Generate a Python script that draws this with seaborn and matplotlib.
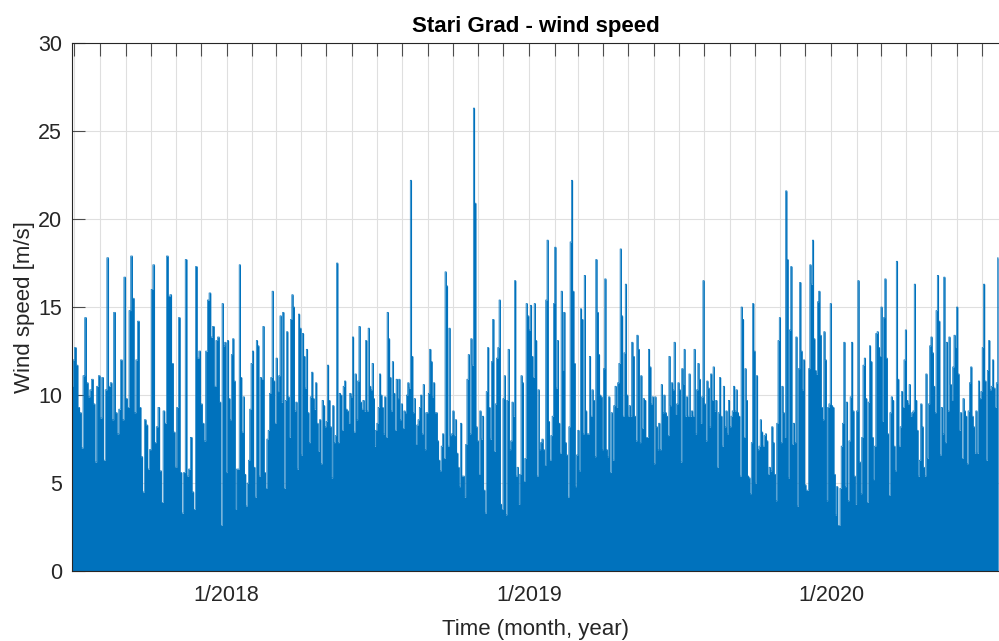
import numpy as np
import pandas as pd
import seaborn as sns
import matplotlib.pyplot as plt
import matplotlib.dates as mdates

seg_start = ["2017-06-28", "2017-12-24", "2018-06-29", "2019-01-02", "2019-07-08", "2020-01-11"]
seg_end = ["2017-12-22", "2018-06-28", "2018-12-31", "2019-07-07", "2020-01-10", "2020-07-21"]

speed_h2_2017 = [10.5, 12.0, 12.7, 11.7, 9.3, 9.0, 7.0, 11.1, 14.4, 10.7, 9.9, 10.3, 10.9, 9.5, 6.2,
                 10.5, 11.1, 8.7, 11.0, 6.3, 10.3, 17.8, 10.5, 10.7, 8.6, 14.7, 9.0, 7.8, 9.2, 12.0,
                 8.6, 16.7, 9.8, 9.3, 14.8, 17.9, 15.5, 9.0, 12.0, 14.2, 9.3, 6.5, 4.5, 8.6, 8.3,
                 5.8, 6.9, 16.0, 17.4, 7.3, 8.2, 9.3, 5.7, 3.9, 9.1, 8.4, 17.9, 15.6, 15.7, 11.8,
                 7.9, 5.9, 9.3, 14.4, 5.6, 3.3, 5.6, 17.7, 5.4, 5.8, 7.6, 4.5, 3.5, 17.3, 12.1,
                 12.5, 9.5, 8.4, 7.4, 12.5, 15.4, 15.8, 13.3, 13.9, 10.5, 13.1, 13.3]
speed_h1_2018 = [9.6, 2.6, 15.2, 12.8, 13.0, 5.6, 13.1, 9.8, 8.6, 12.3, 13.2, 10.8, 3.5, 5.8, 5.8,
                 17.4, 11.0, 7.9, 9.9, 5.5, 3.7, 5.0, 6.3, 9.2, 11.8, 12.5, 5.9, 4.2, 13.1, 12.8,
                 5.4, 11.0, 10.9, 13.9, 5.6, 4.7, 7.5, 8.0, 10.1, 11.0, 15.9, 10.8, 8.4, 12.1, 10.2,
                 11.1, 14.5, 9.6, 14.7, 4.7, 9.7, 13.6, 9.9, 7.6, 14.3, 15.7, 15.0, 9.1, 9.6, 5.8,
                 14.6, 13.8, 6.6, 13.5, 12.2, 10.4, 12.6, 9.0, 7.3, 9.9, 11.3, 9.8, 9.2, 10.7, 8.4,
                 6.8, 8.6, 6.1, 9.7, 9.4, 8.2, 8.5, 11.7, 9.7, 8.2, 5.3, 9.4, 7.3, 7.7, 17.5,
                 7.3, 10.1, 10.0, 8.0, 10.5, 10.8, 9.2, 9.1, 8.4, 10.1, 9.9, 13.3, 7.9, 11.2, 8.6,
                 10.8, 13.9, 9.6, 9.2, 9.7, 9.1, 13.1, 9.1, 13.8, 10.5, 10.3, 11.8, 9.8]
speed_h2_2018 = [7.1, 8.0, 8.4, 9.3, 11.2, 10.0, 9.3, 7.8, 9.9, 7.6, 14.7, 13.2, 11.0, 9.1, 11.9,
                 10.1, 8.0, 10.9, 9.8, 10.9, 8.6, 9.5, 8.1, 9.1, 9.0, 10.0, 10.7, 10.4, 22.2, 12.2,
                 9.0, 9.8, 7.2, 8.3, 8.6, 9.3, 10.0, 7.8, 10.6, 6.9, 9.0, 9.0, 10.1, 12.6, 11.9,
                 9.9, 10.7, 9.0, 9.0, 7.4, 6.3, 5.7, 7.1, 7.8, 6.4, 17.0, 16.2, 7.1, 13.8, 7.7,
                 7.8, 9.1, 7.7, 8.6, 6.7, 5.9, 4.8, 8.4, 5.4, 5.4, 4.2, 7.2, 10.9, 12.3, 7.8,
                 13.2, 11.7, 26.3, 20.9, 8.2, 7.4, 5.5, 9.1, 7.5, 8.8, 4.6, 3.3, 10.2, 12.7, 9.3,
                 7.5, 11.9, 14.3, 6.8, 9.5, 12.1, 12.7, 15.4, 3.8, 3.5, 9.8, 11.1, 3.2, 9.7, 12.6,
                 6.9, 7.4, 9.6, 8.8, 16.5, 5.4, 5.9, 3.8, 5.5, 11.1, 10.7, 5.1, 6.4, 15.2, 14.5]
speed_h1_2019 = [13.7, 15.1, 12.2, 11.0, 15.2, 13.1, 5.4, 10.3, 6.9, 7.3, 7.5, 6.9, 6.0, 15.4, 18.8,
                 8.5, 6.3, 7.7, 8.8, 15.2, 18.4, 10.4, 13.1, 8.4, 6.7, 15.9, 11.4, 14.7, 7.3, 6.6,
                 4.2, 8.2, 18.7, 22.2, 15.9, 11.8, 4.8, 6.6, 8.0, 5.7, 14.9, 14.3, 7.8, 16.8, 9.1,
                 7.8, 7.8, 12.2, 8.8, 10.3, 9.7, 6.5, 17.7, 14.7, 12.3, 10.0, 9.9, 6.9, 11.5, 16.6,
                 6.9, 6.5, 9.9, 5.6, 9.0, 6.3, 9.4, 10.5, 9.3, 10.7, 11.8, 18.3, 14.5, 8.8, 12.4,
                 16.3, 10.0, 8.8, 9.4, 8.8, 13.0, 12.2, 8.8, 7.4, 13.4, 12.6, 7.3, 11.1, 8.1, 9.8,
                 9.7, 7.6, 7.6, 12.6, 11.6, 9.5, 9.9, 6.1, 9.9, 8.2, 6.9, 8.4, 6.9, 10.6, 9.0,
                 10.0, 9.0, 8.8, 7.7, 12.2, 9.4, 10.7, 10.3, 13.0, 8.9, 9.5, 10.7, 10.3, 6.2, 11.5, 10.6]
speed_h2_2019 = [12.6, 8.8, 9.9, 8.8, 11.2, 8.8, 9.1, 8.8, 12.6, 7.8, 10.3, 11.8, 10.9, 8.4, 9.9,
                 16.5, 9.5, 7.4, 10.8, 10.4, 8.2, 11.2, 9.7, 11.6, 9.1, 9.7, 5.9, 9.0, 11.0, 8.8,
                 7.1, 10.5, 8.2, 9.1, 7.8, 9.7, 8.2, 8.8, 9.1, 10.5, 9.1, 10.3, 9.0, 8.8, 5.4,
                 15.0, 14.3, 7.6, 11.5, 9.7, 5.4, 5.3, 4.4, 7.3, 15.2, 12.5, 5.0, 11.1, 6.9, 7.1,
                 8.6, 7.9, 7.1, 7.7, 7.8, 7.4, 5.5, 5.9, 5.7, 8.2, 7.3, 5.5, 4.0, 8.4, 13.1,
                 14.4, 7.3, 10.5, 9.0, 7.6, 21.6, 17.7, 5.3, 13.7, 17.3, 7.2, 8.4, 7.3, 13.3, 3.7,
                 11.5, 16.4, 12.5, 10.3, 12.0, 4.9, 4.6, 4.6, 11.5, 17.4, 16.3, 18.8, 13.2, 11.4, 11.2,
                 15.3, 15.9, 13.4, 9.3, 8.6, 13.6, 12.0, 4.0, 9.3, 9.5, 15.2, 9.4, 9.3, 5.5, 3.2, 4.8, 2.6]
speed_h1_2020 = [2.6, 4.7, 7.1, 8.4, 13.0, 4.8, 9.6, 4.0, 7.4, 9.9, 13.0, 9.1, 5.4, 3.8, 9.1,
                 16.5, 6.2, 4.4, 7.6, 11.7, 12.1, 9.8, 3.9, 9.6, 12.8, 11.9, 7.6, 5.2, 7.1, 13.5,
                 13.6, 12.7, 12.2, 15.0, 8.5, 14.4, 16.6, 12.1, 7.8, 4.3, 9.0, 9.9, 9.7, 7.1, 5.7,
                 17.6, 10.9, 7.1, 8.2, 10.2, 9.3, 12.0, 13.7, 9.7, 9.5, 10.6, 8.8, 9.0, 9.1, 16.3,
                 9.7, 8.0, 5.4, 6.3, 9.5, 8.2, 5.9, 5.4, 11.2, 6.4, 9.5, 12.8, 13.3, 12.4, 10.5,
                 9.0, 14.8, 16.8, 14.2, 6.6, 9.3, 7.8, 16.7, 7.3, 13.0, 9.1, 13.3, 10.6, 9.7, 11.6,
                 13.4, 12.7, 15.0, 11.2, 8.0, 9.0, 6.4, 9.8, 9.1, 8.8, 6.1, 9.1, 10.7, 11.6, 8.8,
                 8.2, 6.7, 9.1, 6.7, 10.8, 9.8, 10.2, 12.7, 16.3, 10.8, 6.3, 11.4, 13.1, 10.3, 10.5,
                 12.0, 10.4, 9.3, 10.7, 17.8]

segments = [speed_h2_2017, speed_h1_2018, speed_h2_2018, speed_h1_2019, speed_h2_2019, speed_h1_2020]
parts = []
for start, end, vals in zip(seg_start, seg_end, segments):
    t = pd.date_range(start, end, periods=len(vals))
    parts.append(pd.DataFrame({"time": t, "speed": vals}))
df = pd.concat(parts, ignore_index=True)

blue = "#0072BD"
dark = "#262626"

sns.set_theme(style="ticks")
plt.rcParams["font.family"] = ["Liberation Sans", "DejaVu Sans"]

fig, ax = plt.subplots(figsize=(9.99, 6.41), dpi=100)
fig.subplots_adjust(left=0.072, right=1.0, bottom=0.109, top=0.933)

ax.fill_between(df["time"], 0, df["speed"], step="mid", color=blue, lw=0, zorder=2)
sns.lineplot(data=df, x="time", y="speed", color=blue, lw=0.5, drawstyle="steps-mid",
             estimator=None, ax=ax, zorder=3)

ax.set_xlim(pd.Timestamp("2017-06-28"), pd.Timestamp("2020-07-22"))
ax.set_ylim(0, 30)
ax.set_yticks(np.arange(0, 31, 5))

def month_label(x, pos):
    d = mdates.num2date(x)
    return f"{d.month}/{d.year}" if d.month == 1 else ""

ax.xaxis.set_major_locator(mdates.MonthLocator())
ax.xaxis.set_major_formatter(plt.FuncFormatter(month_label))

ax.grid(True, color="#dfdfdf", lw=0.8)
ax.set_axisbelow(True)

ax.tick_params(axis="x", direction="in", length=9, width=0.8, color="#4d4d4d", top=True,
               bottom=False, labelsize=15.5, labelcolor=dark, pad=10)
ax.tick_params(axis="y", direction="in", length=9, width=0.8, color="#4d4d4d", right=False,
               labelsize=15.5, labelcolor=dark, pad=7)
for s in ax.spines.values():
    s.set_color(dark)
    s.set_linewidth(0.8)
    s.set_zorder(4)
ax.spines["right"].set_visible(False)

ax.set_title("Stari Grad - wind speed", fontsize=16, fontweight="bold", color="black", pad=8)
ax.set_xlabel("Time (month, year)", fontsize=16, color=dark, labelpad=9)
ax.set_ylabel("Wind speed [m/s]", fontsize=16, color=dark, labelpad=2.5)

fig.savefig("out.png", dpi=100)
